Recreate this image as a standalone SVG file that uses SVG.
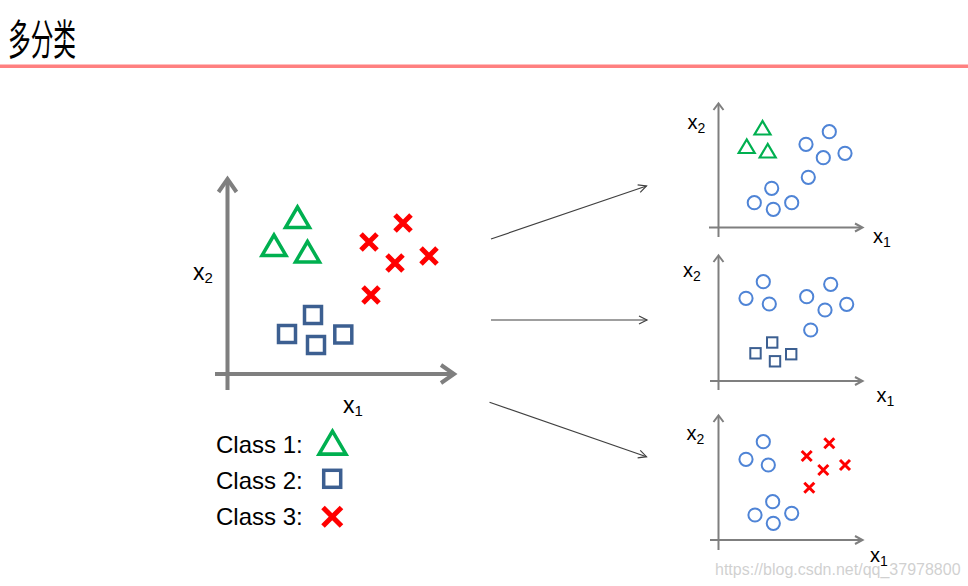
<svg xmlns="http://www.w3.org/2000/svg" xmlns:xlink="http://www.w3.org/1999/xlink" width="968" height="586" viewBox="0 0 968 586">
<style>
  text { font-family: "Liberation Sans", Arial, sans-serif; fill: #000; }
  .title { font-family: "Noto Sans CJK SC", "Noto Sans CJK JP", sans-serif; font-size: 42px; }
  .ax { stroke: #7f7f7f; fill: none; }
  .axm { stroke-width: 4; }
  .axs { stroke-width: 2; }
  .tri { fill: none; stroke: #00b050; stroke-width: 3.5; }
  .tris { fill: none; stroke: #00b050; stroke-width: 2.2; }
  .sq { fill: none; stroke: #3c5f91; stroke-width: 3.5; }
  .sqs { fill: none; stroke: #3c5f91; stroke-width: 2; }
  .cr { fill: none; stroke: #ff0000; stroke-width: 5; }
  .crs { fill: none; stroke: #ff0000; stroke-width: 3; }
  .ci { fill: none; stroke: #4f84d6; stroke-width: 2; }
  .lab { font-size: 23px; }
  .labs { font-size: 20px; }
  .leg { font-size: 24px; }
  .conn { stroke: #404040; stroke-width: 1.2; fill: none; }
</style>
<defs>
  <path id="triM" d="M0,-11 L-12,9.5 L12,9.5 Z"/>
  <path id="triS" d="M0,-7.5 L-8,6 L8,6 Z"/>
  <rect id="sqM" x="-8.5" y="-8.5" width="17" height="17"/>
  <rect id="sqS" x="-5.2" y="-5.2" width="10.4" height="10.4"/>
  <path id="crM" d="M-8,-8 L8,8 M-8,8 L8,-8"/>
  <path id="crS" d="M-5,-5 L5,5 M-5,5 L5,-5"/>
  <circle id="ciS" r="6.6"/>
  <marker id="arr" markerUnits="userSpaceOnUse" markerWidth="12" markerHeight="12" refX="9" refY="5" orient="auto">
    <path d="M1,1 L9,5 L1,9" fill="none" stroke="#404040" stroke-width="1.2"/>
  </marker>
</defs>

<g id="title">
  <text class="title" x="8" y="55" textLength="68" lengthAdjust="spacingAndGlyphs">多分类</text>
  <rect x="0" y="64.5" width="968" height="3.5" fill="#ff8080"/>
</g>

<g id="main-plot">
  <line class="ax axm" x1="227.5" y1="390" x2="227.5" y2="181"/>
  <polyline class="ax axm" points="218.5,192 227.5,179 236.5,192"/>
  <line class="ax axm" x1="215" y1="374" x2="451" y2="374"/>
  <polyline class="ax axm" points="441,365 454,374 441,383"/>
  <text class="lab" x="193" y="280">x<tspan font-size="15" dy="3">2</tspan></text>
  <text class="lab" x="343" y="413">x<tspan font-size="15" dy="3">1</tspan></text>
  <use href="#triM" class="tri" x="297.5" y="218"/>
  <use href="#triM" class="tri" x="274" y="246"/>
  <use href="#triM" class="tri" x="307.5" y="252.5"/>
  <use href="#sqM" class="sq" x="313" y="315"/>
  <use href="#sqM" class="sq" x="287" y="334"/>
  <use href="#sqM" class="sq" x="316" y="345"/>
  <use href="#sqM" class="sq" x="343.3" y="334.5"/>
  <use href="#crM" class="cr" x="403" y="223"/>
  <use href="#crM" class="cr" x="369" y="242"/>
  <use href="#crM" class="cr" x="395" y="263"/>
  <use href="#crM" class="cr" x="429" y="256"/>
  <use href="#crM" class="cr" x="371" y="295"/>
</g>

<g id="legend">
  <text class="leg" x="216" y="453">Class 1:</text>
  <text class="leg" x="216" y="489">Class 2:</text>
  <text class="leg" x="216" y="525">Class 3:</text>
  <g transform="translate(332.5,443.5) scale(1.12)"><use href="#triM" class="tri" style="stroke-width:3.2"/></g>
  <use href="#sqM" class="sq" x="332.2" y="478.8"/>
  <path class="cr" d="M323,507.5 L341.5,526 M323,526 L341.5,507.5"/>
</g>

<g id="connectors">
  <line class="conn" x1="491" y1="239" x2="646.5" y2="186" marker-end="url(#arr)"/>
  <line class="conn" x1="491" y1="320" x2="647" y2="320" marker-end="url(#arr)"/>
  <line class="conn" x1="489.5" y1="402.3" x2="646.5" y2="456.7" marker-end="url(#arr)"/>
</g>

<g id="plot-1">
  <line class="ax axs" x1="718.5" y1="237" x2="718.5" y2="105"/>
  <polyline class="ax axs" points="713.5,110 718.5,103.5 723.5,110"/>
  <line class="ax axs" x1="709" y1="227.5" x2="861" y2="227.5"/>
  <polyline class="ax axs" points="855,223.5 862.5,227.5 855,231.5"/>
  <text class="labs" x="687.5" y="128.5">x<tspan font-size="14" dy="4">2</tspan></text>
  <text class="labs" x="873" y="243">x<tspan font-size="14" dy="4">1</tspan></text>
  <use href="#triS" class="tris" x="762.5" y="128.5"/>
  <use href="#triS" class="tris" x="746.7" y="147"/>
  <use href="#triS" class="tris" x="767.7" y="151.5"/>
  <use href="#ciS" class="ci" x="829.3" y="131.7"/>
  <use href="#ciS" class="ci" x="806" y="144.3"/>
  <use href="#ciS" class="ci" x="823.3" y="157.7"/>
  <use href="#ciS" class="ci" x="845" y="153.3"/>
  <use href="#ciS" class="ci" x="808.3" y="177.3"/>
  <use href="#ciS" class="ci" x="771.7" y="188.3"/>
  <use href="#ciS" class="ci" x="754.3" y="202.7"/>
  <use href="#ciS" class="ci" x="773.3" y="209.3"/>
  <use href="#ciS" class="ci" x="791.7" y="202.7"/>
</g>

<g id="plot-2">
  <line class="ax axs" x1="718.5" y1="390" x2="718.5" y2="257"/>
  <polyline class="ax axs" points="713.5,262 718.5,255.5 723.5,262"/>
  <line class="ax axs" x1="710" y1="381" x2="861" y2="381"/>
  <polyline class="ax axs" points="855,377 862.5,381 855,385"/>
  <text class="labs" x="683" y="277">x<tspan font-size="14" dy="4">2</tspan></text>
  <text class="labs" x="876.5" y="401.5">x<tspan font-size="14" dy="4">1</tspan></text>
  <use href="#ciS" class="ci" x="763.3" y="281.7"/>
  <use href="#ciS" class="ci" x="746" y="298.3"/>
  <use href="#ciS" class="ci" x="769.3" y="304"/>
  <use href="#ciS" class="ci" x="806.7" y="296.7"/>
  <use href="#ciS" class="ci" x="830.7" y="284.3"/>
  <use href="#ciS" class="ci" x="825" y="310"/>
  <use href="#ciS" class="ci" x="846.7" y="304.3"/>
  <use href="#ciS" class="ci" x="810.7" y="330"/>
  <use href="#sqS" class="sqs" x="772.2" y="342.5"/>
  <use href="#sqS" class="sqs" x="755.5" y="353.3"/>
  <use href="#sqS" class="sqs" x="775" y="361.3"/>
  <use href="#sqS" class="sqs" x="791.2" y="354.2"/>
</g>

<g id="plot-3">
  <line class="ax axs" x1="718.5" y1="550" x2="718.5" y2="417"/>
  <polyline class="ax axs" points="713.5,422 718.5,415.5 723.5,422"/>
  <line class="ax axs" x1="710" y1="540" x2="861" y2="540"/>
  <polyline class="ax axs" points="855,536 862.5,540 855,544"/>
  <text class="labs" x="686.5" y="440">x<tspan font-size="14" dy="4">2</tspan></text>
  <text class="labs" x="870" y="561.5">x<tspan font-size="14" dy="4">1</tspan></text>
  <use href="#ciS" class="ci" x="763.3" y="441.7"/>
  <use href="#ciS" class="ci" x="746" y="459.3"/>
  <use href="#ciS" class="ci" x="768.3" y="465"/>
  <use href="#ciS" class="ci" x="772.7" y="501.7"/>
  <use href="#ciS" class="ci" x="755" y="515"/>
  <use href="#ciS" class="ci" x="773.3" y="523.3"/>
  <use href="#ciS" class="ci" x="791.7" y="513.3"/>
  <use href="#crS" class="crs" x="806.7" y="456"/>
  <use href="#crS" class="crs" x="829.3" y="443.3"/>
  <use href="#crS" class="crs" x="823.3" y="470"/>
  <use href="#crS" class="crs" x="845" y="465"/>
  <use href="#crS" class="crs" x="809.3" y="487.7"/>
</g>

<g id="watermark">
  <text x="715" y="575" font-size="16" style="fill:#c8c8c8" fill-opacity="0.85">https://blog.csdn.net/qq_37978800</text>
</g>
</svg>
